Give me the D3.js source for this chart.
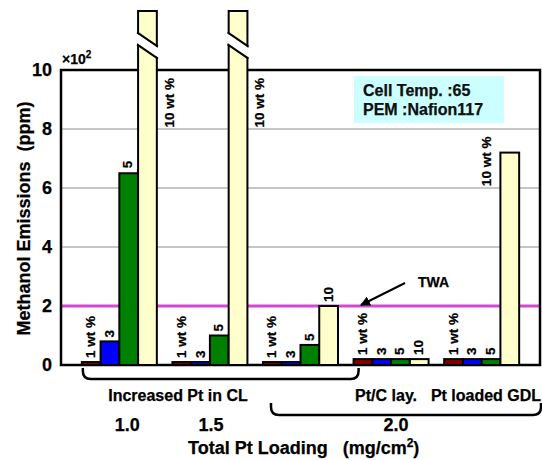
<!DOCTYPE html>
<html>
<head>
<meta charset="utf-8">
<script src="https://cdn.jsdelivr.net/npm/d3@7"></script>
<style>
  html, body { margin: 0; padding: 0; background: #fff; }
  svg { display: block; font-family: "Liberation Sans", Arial, sans-serif; font-weight: bold; }
  svg text { stroke: #000; stroke-width: 0.25px; }
</style>
</head>
<body>
<svg id="chart" width="542" height="460"></svg>
<script>
// ---- data ----
const groups = ["1.0 CL", "1.5 CL", "2.0 CL", "2.0 Pt/C lay.", "2.0 Pt loaded GDL"];
const series = ["1 wt %", "3 wt %", "5 wt %", "10 wt %"];
const seriesColors = ["#800000", "#0000ff", "#008000", "#ffffcc"];
const v1  = [0.1, 0.1, 0.1, 0.2, 0.2];
const v3  = [0.8, 0.1, 0.1, 0.2, 0.2];
const v5  = [6.5, 1.0, 0.68, 0.2, 0.2];
const v10 = [12, 12, 2.0, 0.2, 7.2];   // values > 10 are off scale (broken bars)
const lab1  = ["1 wt %", "1 wt %", "1 wt %", "1 wt %", "1 wt %"];
const lab3  = ["3", "3", "3", "3", "3"];
const lab5  = ["5", "5", "5", "5", "5"];
const lab10 = ["10 wt %", "10 wt %", "10", "10", "10 wt %"];
const yTicks = [0, 2, 4, 6, 8, 10];
const twaValue = 2;
const loadingLabels = ["1.0", "1.5", "2.0"];
const loadingGroups = [0, 1, 3];
const bracketLabels = ["Increased Pt in CL", "Pt/C lay.", "Pt loaded GDL"];
const infoLines = ["Cell Temp. :65", "PEM :Nafion117"];

const values = [v1, v3, v5, v10];
const labels = [lab1, lab3, lab5, lab10];

// ---- layout ----
const svg = d3.select("#chart");
const L = 61, R = 540, T = 70, B = 365;
const x = d3.scaleBand().domain(d3.range(groups.length)).range([L, R]).paddingInner(0.172).paddingOuter(0.23);
const xs = d3.scaleBand().domain(d3.range(series.length)).range([0, x.bandwidth()]);
const y = d3.scaleLinear().domain([0, 10]).range([B, T]);

// grid lines
svg.append("g").selectAll("line").data(yTicks.filter(d => d > 0 && d < 10 && d !== twaValue))
  .join("line").attr("x1", L).attr("x2", R).attr("y1", d => y(d)).attr("y2", d => y(d))
  .attr("stroke", "#8c8c8c").attr("stroke-width", 1);

// TWA line
svg.append("line").attr("x1", L).attr("x2", R).attr("y1", y(twaValue)).attr("y2", y(twaValue))
  .attr("stroke", "#d24ad2").attr("stroke-width", 3);

// frame
svg.append("path").attr("d", `M${L},${B}V${T}H${R}V${B}Z`).attr("fill", "none")
  .attr("stroke", "#000").attr("stroke-width", 2.5);

// y axis
const yAxis = d3.axisLeft(y).tickValues(yTicks).tickSize(0).tickPadding(9).tickFormat(d3.format("d"));
const ga = svg.append("g").attr("transform", `translate(${L},0)`).call(yAxis);
ga.select(".domain").remove();
ga.selectAll("text").attr("font-size", 18).attr("font-weight", "bold")
  .attr("font-family", "'Liberation Sans', Arial, sans-serif").attr("fill", "#000");

svg.append("text").attr("x", L + 1).attr("y", T - 6).attr("font-size", 14)
  .html('×10<tspan dy="-6" font-size="10">2</tspan>');

svg.append("text").attr("transform", `translate(30,${(T + B) / 2 + 1}) rotate(-90)`)
  .attr("text-anchor", "middle").attr("font-size", 18).attr("xml:space", "preserve")
  .text("Methanol Emissions  (ppm)");

// bars
const bw = xs.bandwidth();
const barData = [];
groups.forEach((g, gi) => series.forEach((s, si) => {
  barData.push({ gi, si, v: values[si][gi], label: labels[si][gi],
    x0: x(gi) + xs(si) });
}));

const bars = svg.append("g");
bars.selectAll("rect").data(barData).join("rect")
  .attr("x", d => d.x0).attr("width", bw)
  .attr("y", d => y(d.v)).attr("height", d => y(0) - y(d.v))
  .attr("fill", d => seriesColors[d.si]).attr("stroke", "#000").attr("stroke-width", 2);

// break marks on off-scale bars
const k = 0.68;
barData.filter(d => d.v > 10).forEach(d => {
  const x0 = d.x0, x1 = d.x0 + bw, a = y(11.25), g = 12, dd = k * bw;
  const e = 3;
  bars.append("polygon")
    .attr("points", [[x0 - e, a - k * e + 1.2], [x1 + e, a + dd + k * e + 1.2],
                     [x1 + e, a + dd + g + k * e - 1.2], [x0 - e, a + g - k * e - 1.2]].map(p => p.join(",")).join(" "))
    .attr("fill", "#fff");
  [0, g].forEach(off => bars.append("line")
    .attr("x1", x0 - 1).attr("y1", a + off - k).attr("x2", x1 + 1).attr("y2", a + dd + off + k)
    .attr("stroke", "#000").attr("stroke-width", 2));
});

// bar labels
const labFont = 13.5;
bars.selectAll("text").data(barData).join("text")
  .attr("font-size", labFont)
  .attr("text-anchor", d => ((d.v > 10 || (d.v > 5 && d.si === 3)) ? "end" : "start"))
  .attr("transform", d => {
    let cx, yy;
    if (d.v > 10) { cx = d.x0 + bw + 12; yy = T + 8; }
    else if (d.v > 5 && d.si === 3) { cx = d.x0 - 14; yy = y(d.v) - 16; }
    else if (d.v > 5) { cx = d.x0 + bw / 2 - 2; yy = y(d.v) - 5; }
    else { cx = d.x0 + bw / 2 - 1; yy = y(d.v) - 4; }
    return `translate(${cx + 5},${yy}) rotate(-90)`;
  })
  .attr("xml:space", "preserve")
  .text(d => d.label);

// info box
svg.append("rect").attr("x", 354).attr("y", 76).attr("width", 150).attr("height", 47).attr("fill", "#ccffff");
svg.append("g").selectAll("text").data(infoLines).join("text")
  .attr("x", 363).attr("y", (d, i) => 96 + i * 19).attr("font-size", 16).attr("fill", "#111").text(d => d);

// TWA annotation
svg.append("defs").append("marker").attr("id", "ah").attr("viewBox", "0 0 10 10")
  .attr("refX", 9).attr("refY", 5).attr("markerWidth", 5).attr("markerHeight", 5)
  .attr("markerUnits", "strokeWidth").attr("orient", "auto")
  .append("path").attr("d", "M0,0L10,5L0,10Z").attr("fill", "#000");
svg.append("line").attr("x1", 405).attr("y1", 283).attr("x2", 361).attr("y2", y(twaValue) - 1)
  .attr("stroke", "#000").attr("stroke-width", 2).attr("marker-end", "url(#ah)");
svg.append("text").attr("x", 418).attr("y", 287).attr("font-size", 14).text("TWA");

// brackets
function bracket(xa, xb, yt, yb, r) {
  return `M${xa},${yt}V${yb - r}Q${xa},${yb} ${xa + r},${yb}H${xb - r}Q${xb},${yb} ${xb},${yb - r}V${yt}`;
}
const bwG = x.bandwidth();
svg.append("path").attr("d", bracket(x(0) + 1, x(3) + 5, 368, 379, 8))
  .attr("fill", "none").attr("stroke", "#000").attr("stroke-width", 2.5);
svg.append("path").attr("d", bracket(x(2) + 8, R + 1, 403, 415, 8))
  .attr("fill", "none").attr("stroke", "#000").attr("stroke-width", 2.5);

svg.append("text").attr("x", 178).attr("y", 401).attr("text-anchor", "middle").attr("font-size", 16).text(bracketLabels[0]);
svg.append("text").attr("x", x(3) + bwG / 2 - 5).attr("y", 401).attr("text-anchor", "middle").attr("font-size", 16).text(bracketLabels[1]);
svg.append("text").attr("x", 486).attr("y", 401).attr("text-anchor", "middle").attr("font-size", 16).text(bracketLabels[2]);

const loadOff = [8, 1, 5];
svg.append("g").selectAll("text").data(loadingLabels).join("text")
  .attr("x", (d, i) => x(loadingGroups[i]) + bwG / 2 + loadOff[i]).attr("y", 431)
  .attr("text-anchor", "middle").attr("font-size", 18).text(d => d);

svg.append("text").attr("x", 188).attr("y", 454).attr("font-size", 18)
  .attr("xml:space", "preserve")
  .html('Total Pt Loading   (mg/cm<tspan dy="-7" font-size="12">2</tspan><tspan dy="7">)</tspan>');
</script>
</body>
</html>
